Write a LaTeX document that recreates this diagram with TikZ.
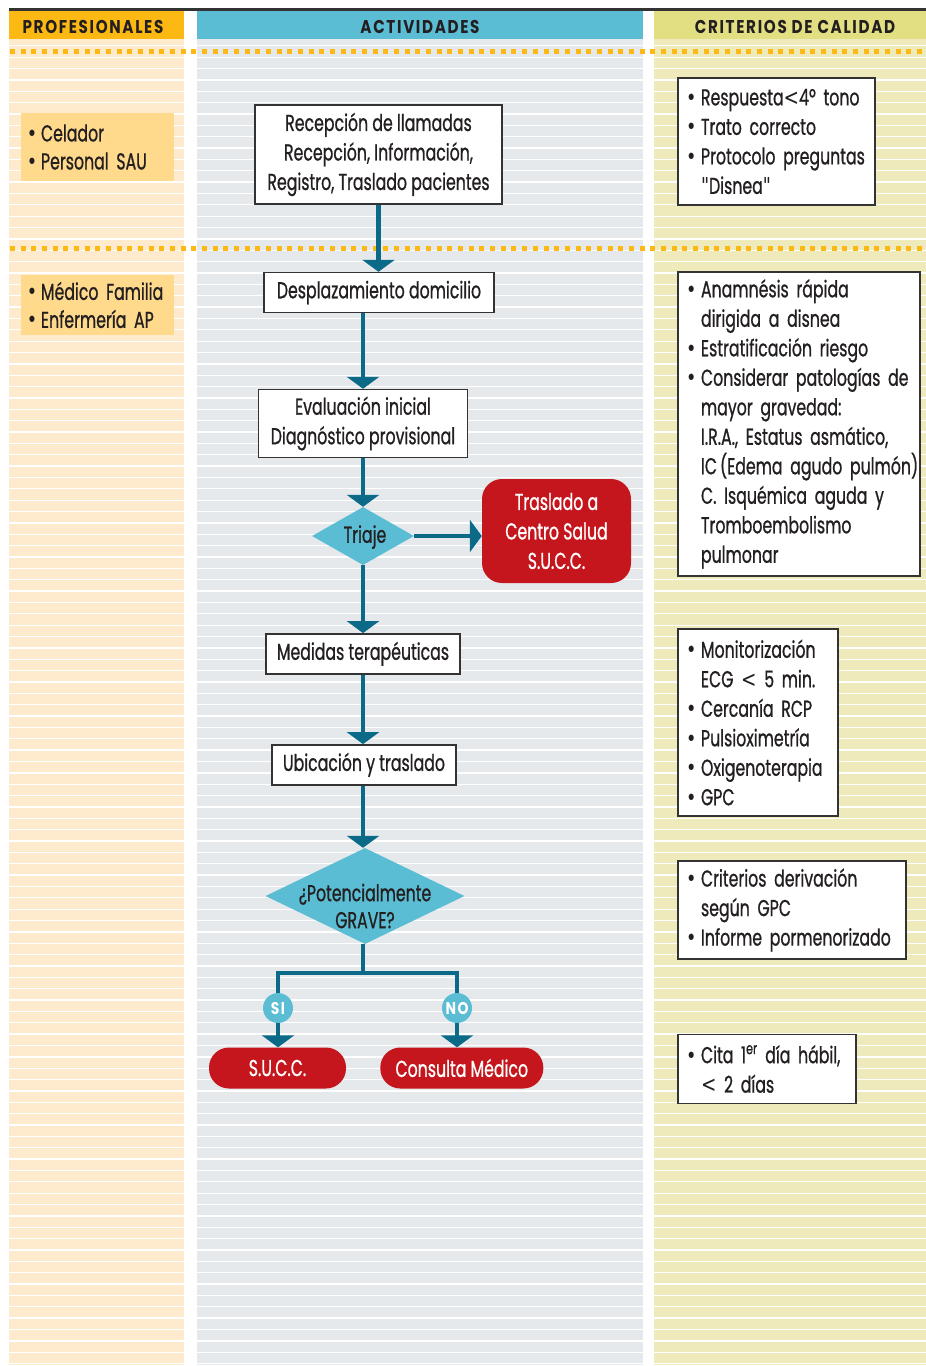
\documentclass[tikz,border=0pt]{standalone}
\usepackage{fontspec}
\setmainfont{Poppins}[FakeStretch=0.685,FakeBold=0.8]
\newfontfamily\hdfont{Poppins}[FakeStretch=0.82,LetterSpace=9]
\newfontfamily\dvfont{DejaVu Sans}[FakeStretch=0.8]
\usetikzlibrary{shapes.geometric,arrows.meta}
\definecolor{hdOrange}{HTML}{FDB913}
\definecolor{hdBlue}{HTML}{5BBDD3}
\definecolor{hdKhaki}{HTML}{E2DE82}
\definecolor{bgPeach}{HTML}{FEEBCD}
\definecolor{bgGray}{HTML}{E6E9EC}
\definecolor{bgKhaki}{HTML}{EEEABC}
\definecolor{profc}{HTML}{FFD98C}
\definecolor{diac}{HTML}{5BBDD3}
\definecolor{redc}{HTML}{C4161C}
\definecolor{arrowc}{HTML}{0B6A88}
\definecolor{bordc}{HTML}{333333}
\definecolor{txtc}{HTML}{231F20}
\newcommand\txtfont{\fontsize{23}{29.5}\selectfont}
\newcommand\bul{{\dvfont\fontsize{22}{22}\selectfont\textbullet}}
\newcommand\lth{{\dvfont\fontsize{23}{23}\selectfont<}}
\newcommand\dq{{\dvfont\fontsize{22}{22}\selectfont"}}
\newcommand\itm[2][15pt]{\makebox[#1][l]{\bul}\mbox{#2}}
\newcommand\cnt[2][15pt]{\hspace*{#1}\mbox{#2}}
\begin{document}
\begin{tikzpicture}[x=1pt,y=-1pt,
  hd/.style={font=\hdfont\bfseries\fontsize{18.5}{18.5}\selectfont, text=txtc, inner sep=0pt, anchor=base},
  actbox/.style={draw=bordc, line width=1.4pt, fill=white, align=center, inner sep=0pt, font=\txtfont, text=txtc},
  critbox/.style={draw=bordc, line width=1.4pt, fill=white, align=left, inner xsep=8pt, inner ysep=0pt, font=\txtfont, text=txtc},
  profbox/.style={fill=profc, align=left, inner xsep=6pt, inner ysep=0pt, font=\fontsize{23}{28}\selectfont, text=txtc},
  redbox/.style={fill=redc, rounded corners=20pt, align=center, inner sep=0pt, font=\txtfont, text=white},
  dia/.style={shape=diamond, fill=diac, inner sep=0pt},
  dialabel/.style={align=center, inner sep=0pt, font=\fontsize{23}{27}\selectfont, text=txtc},
  circ/.style={circle, fill=diac, minimum size=30pt, inner sep=0pt, text=white, font=\hdfont\bfseries\fontsize{17}{17}\selectfont},
  conn/.style={draw=arrowc, line width=4.6pt},
  arr/.style={conn, -{Triangle[width=32pt,length=12pt]}},
  dotline/.style={draw=hdOrange, line width=5pt, dash pattern=on 5pt off 5.67pt}
]
\useasboundingbox (0,0) rectangle (926,1366);
\fill[white] (0,0) rectangle (926,1366);
% column backgrounds
\fill[bgPeach] (9,38.7) rectangle (184,1365);
\fill[bgGray] (197,38.7) rectangle (643,1365);
\fill[bgKhaki] (654,38.7) rectangle (926,1365);
\foreach \k in {0,...,116} \draw[white, line width=1.3pt] (9,45.8+11.36*\k) -- (926,45.8+11.36*\k);
% headers
\draw[bordc, line width=2.3pt] (9,9.5) -- (926,9.5);
\fill[hdOrange] (9,10.7) rectangle (184,38.7);
\fill[hdBlue] (197,10.7) rectangle (643,38.7);
\fill[hdKhaki] (654,10.7) rectangle (926,38.7);
\node[hd] (hprof) at (93,33) {PROFESIONALES};
\node[hd] (hact) at (420,33) {ACTIVIDADES};
\node[hd] (hcrit) at (795,33) {CRITERIOS DE CALIDAD};
% dotted separators
\draw[dotline] (10,51) -- (926,51);
\draw[dotline] (10,248.3) -- (926,248.3);
% professionals
\node[profbox, text width=141pt, minimum height=68pt] (p1) at (97.5,147) {\itm[14pt]{Celador}\\\itm[14pt]{Personal SAU}};
\node[profbox, text width=141pt, minimum height=60pt] (p2) at (97.5,305) {\itm[14pt]{Médico Familia}\\\itm[14pt]{Enfermería AP}};
% activities
\node[actbox, minimum width=247pt, minimum height=99pt] (rec) at (378.5,154.5) {Recepción de llamadas\\Recepción, Información,\\Registro, Traslado pacientes};
\node[actbox, minimum width=230pt, minimum height=40pt] (desp) at (379,292.5) {Desplazamiento domicilio};
\node[actbox, minimum width=209pt, minimum height=68pt] (eval) at (363,423.5) {Evaluación inicial\\Diagnóstico provisional};
\node[dia, minimum width=102pt, minimum height=58pt] (triaje) at (363,536) {};
\node[dialabel] (triajet) at (365,537) {Triaje};
\node[redbox, minimum width=149pt, minimum height=104pt] (tras) at (556.5,531) {Traslado a\\Centro Salud\\S.U.C.C.};
\node[actbox, minimum width=194pt, minimum height=40pt] (med) at (363,653.8) {Medidas terapéuticas};
\node[actbox, minimum width=184pt, minimum height=40pt] (ubic) at (364,764.8) {Ubicación y traslado};
\node[dia, minimum width=199pt, minimum height=96pt] (grave) at (365,896) {};
\node[dialabel] (gravet) at (365,906) {¿Potencialmente\\GRAVE?};
\node[redbox, minimum width=137pt, minimum height=41pt] (succ) at (277.5,1068) {S.U.C.C.};
\node[redbox, minimum width=163pt, minimum height=41pt] (cons) at (461.8,1068) {Consulta Médico};
% connectors
\draw[arr] (rec.south) -- (rec.south |- desp.north);
\draw[arr] (eval.north |- desp.south) -- (eval.north);
\draw[arr] (eval.south) -- (triaje.north);
\draw[arr] (triaje.east) -- (triaje.east -| tras.west);
\draw[arr] (triaje.south) -- (triaje.south |- med.north);
\draw[arr] (triaje.south |- med.south) -- (triaje.south |- ubic.north);
\draw[arr] (triaje.south |- ubic.south) -- (triaje.south |- grave.north);
\coordinate (jn) at (363,973);
\coordinate (jl) at (278,973);
\coordinate (jr) at (457,973);
\node[circ] (si) at (278,1008) {SI};
\node[circ] (no) at (457,1008) {NO};
\draw[conn] (grave.south -| jn) -- (jn);
\draw[conn] (si) -- (jl) -- (jr) -- (no);
\draw[arr] (si) -- (si |- succ.north);
\draw[arr] (no) -- (no |- cons.north);
% quality criteria
\node[critbox, text width=181pt, minimum height=127pt] (c1) at (776.5,141.5) {\itm{Respuesta\lth4º tono}\\\itm{Trato correcto}\\\itm{Protocolo preguntas}\\\cnt{\dq Disnea\dq}};
\node[critbox, text width=226pt, minimum height=304pt] (c2) at (799,424) {\itm{Anamnésis rápida}\\\cnt{dirigida a disnea}\\\itm{Estratificación riesgo}\\\itm{Considerar patologías de}\\\cnt{mayor gravedad:}\\\cnt{I.R.A., Estatus asmático,}\\\cnt{IC\hspace{3pt}(Edema agudo pulmón)}\\\cnt{C. Isquémica aguda y}\\\cnt{Tromboembolismo}\\\cnt{pulmonar}};
\node[critbox, text width=144pt, minimum height=187pt] (c3) at (758,722.5) {\itm{Monitorización}\\\cnt{ECG \lth\ 5 min.}\\\itm{Cercanía RCP}\\\itm{Pulsioximetría}\\\itm{Oxigenoterapia}\\\itm{GPC}};
\node[critbox, text width=212pt, minimum height=98pt] (c4) at (792,910) {\itm{Criterios derivación}\\\cnt{según GPC}\\\itm{Informe pormenorizado}};
\node[critbox, text width=162pt, minimum height=69pt] (c5) at (767,1069) {\itm{Cita 1\textsuperscript{er} día hábil,}\\\cnt{\lth\ 2 días}};
\end{tikzpicture}
\end{document}
